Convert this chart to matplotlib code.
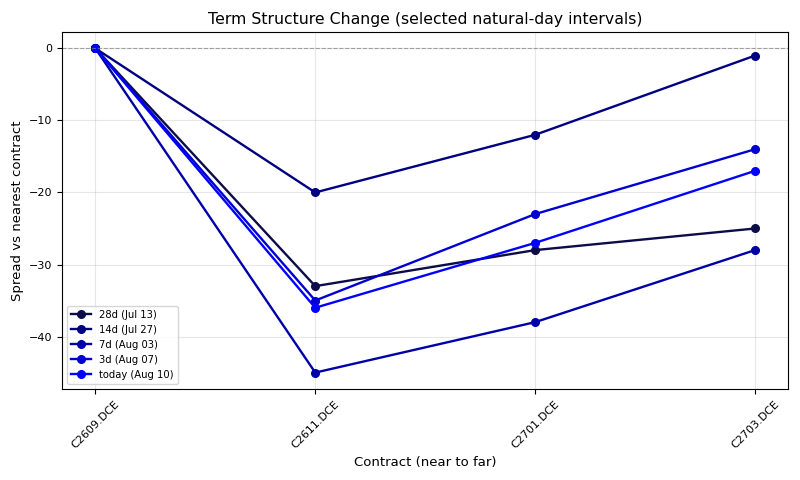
import matplotlib
matplotlib.use("Agg")
import matplotlib.pyplot as plt

contracts = ["C2609.DCE", "C2611.DCE", "C2701.DCE", "C2703.DCE"]
labels = ["28d (Jul 13)", "14d (Jul 27)", "7d (Aug 03)", "3d (Aug 07)", "today (Aug 10)"]
spread_28d = [0, -33, -28, -25]
spread_14d = [0, -20, -12, -1]
spread_7d = [0, -45, -38, -28]
spread_3d = [0, -35, -23, -14]
spread_today = [0, -36, -27, -17]
colors = ["#0c0c48", "#000080", "#0000a8", "#0000d0", "#0000ff"]

series = [spread_28d, spread_14d, spread_7d, spread_3d, spread_today]

fig, ax = plt.subplots(figsize=(8, 4.8), dpi=100)
x = list(range(len(contracts)))
for vals, lab, col in zip(series, labels, colors):
    ax.plot(x, vals, marker="o", markersize=5.5, linewidth=1.7, color=col, label=lab)

ax.axhline(0, color="gray", linestyle="--", linewidth=0.8, alpha=0.7)
ax.set_xticks(x)
ax.set_xticklabels(contracts, rotation=45)
ax.tick_params(labelsize=8)
ax.grid(True, alpha=0.3)
ax.set_title("Term Structure Change (selected natural-day intervals)", fontsize=11.3)
ax.set_xlabel("Contract (near to far)", fontsize=9.5)
ax.set_ylabel("Spread vs nearest contract", fontsize=9.5)
ax.legend(loc="lower left", fontsize=7.2)
fig.subplots_adjust(left=0.078, right=0.985, top=0.933, bottom=0.19)
fig.savefig("out.png", dpi=100)
